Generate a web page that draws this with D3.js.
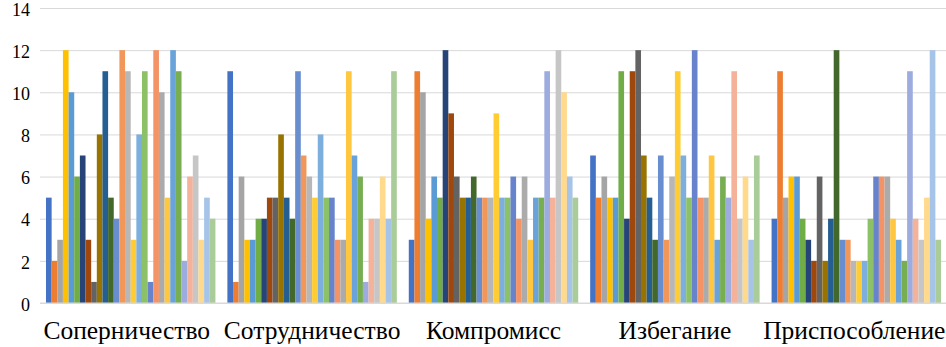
<!DOCTYPE html>
<html>
<head>
<meta charset="utf-8">
<script src="https://cdn.jsdelivr.net/npm/d3@7/dist/d3.min.js"></script>
<style>
  html, body { margin: 0; padding: 0; background: #ffffff; }
  svg { display: block; }
  svg text { font-family: "Liberation Serif", "Times New Roman", "DejaVu Serif", serif !important; fill: #000; }
</style>
</head>
<body>
<svg id="chart" width="946" height="347"></svg>
<script>
// ---- data ----
const categories = ["Соперничество", "Сотрудничество", "Компромисс", "Избегание", "Приспособление"];
const seriesNames = d3.range(1, 31).map(i => "Ряд " + i);
const yTicks = [0, 2, 4, 6, 8, 10, 12, 14];

const sopernichestvo  = [5, 2, 3, 12, 10, 6, 7, 3, 1, 8, 11, 5, 4, 12, 11, 3, 8, 11, 1, 12, 10, 5, 12, 11, 2, 6, 7, 3, 5, 4];
const sotrudnichestvo = [11, 1, 6, 3, 3, 4, 4, 5, 5, 8, 5, 4, 11, 7, 6, 5, 8, 5, 5, 3, 3, 11, 7, 6, 1, 4, 4, 6, 4, 11];
const kompromiss      = [3, 11, 10, 4, 6, 5, 12, 9, 6, 5, 5, 6, 5, 5, 5, 9, 5, 5, 6, 4, 6, 3, 5, 5, 11, 5, 12, 10, 6, 5];
const izbeganie       = [7, 5, 6, 5, 5, 11, 4, 11, 12, 7, 5, 3, 7, 3, 6, 11, 7, 5, 12, 5, 5, 7, 3, 6, 5, 11, 4, 6, 3, 7];
const prisposoblenie  = [4, 11, 5, 6, 6, 4, 3, 2, 6, 2, 4, 12, 3, 3, 2, 2, 2, 4, 6, 6, 6, 4, 3, 2, 11, 4, 3, 5, 12, 3];

const valuesByCategory = [sopernichestvo, sotrudnichestvo, kompromiss, izbeganie, prisposoblenie];

// ---- style ----
const palette = [
  "#4472C4", "#ED7D31", "#A5A5A5", "#FFC000", "#5B9BD5", "#70AD47",
  "#264478", "#9E480E", "#636363", "#997300", "#255E91", "#43682B",
  "#698ED0", "#F1975A", "#B7B7B7", "#FFCD33", "#7CAFDD", "#8CC168",
  "#6683CB", "#F39366", "#ABABAB", "#FFC740", "#6AA3DA", "#77AE52",
  "#9DACDF", "#F4B29A", "#C6C6C6", "#FFD98C", "#A6C4E8", "#A9CC98"
];
const FONT = '"Liberation Serif", "Times New Roman", "DejaVu Serif", serif';

const svg = d3.select("#chart");
const margin = { left: 40, top: 8 };
const plotRight = 947;
const plotBottom = 303;

const x0 = d3.scaleBand()
  .domain(categories)
  .range([margin.left, plotRight])
  .paddingInner(0.066)
  .paddingOuter(0.033);

const x1 = d3.scaleBand()
  .domain(seriesNames)
  .range([0, x0.bandwidth()])
  .padding(0);

const y = d3.scaleLinear().domain([0, 14]).range([plotBottom, margin.top]);

const color = d3.scaleOrdinal().domain(seriesNames).range(palette);

// gridlines
const grid = svg.append("g")
  .attr("transform", `translate(${margin.left},0)`)
  .call(d3.axisLeft(y).tickValues(yTicks).tickSize(-(plotRight - margin.left)).tickFormat(""));
grid.select(".domain").remove();
grid.selectAll(".tick line").attr("stroke", "#D9D9D9").attr("stroke-width", 1);

// bars
const groups = svg.append("g").selectAll("g")
  .data(categories.map((c, i) => ({ cat: c, vals: valuesByCategory[i] })))
  .join("g")
  .attr("transform", d => `translate(${x0(d.cat)},0)`);

groups.selectAll("rect")
  .data(d => d.vals.map((v, j) => ({ name: seriesNames[j], v })))
  .join("rect")
  .attr("x", d => x1(d.name))
  .attr("y", d => y(d.v))
  .attr("width", x1.bandwidth())
  .attr("height", d => y(0) - y(d.v))
  .attr("fill", d => color(d.name));

// baseline
svg.append("line")
  .attr("x1", margin.left).attr("x2", plotRight)
  .attr("y1", y(0)).attr("y2", y(0))
  .attr("stroke", "#D9D9D9").attr("stroke-width", 1);

// y axis labels
const yAxis = svg.append("g")
  .attr("transform", `translate(${margin.left},0)`)
  .call(d3.axisLeft(y).tickValues(yTicks).tickSize(0).tickPadding(10));
yAxis.attr("font-family", FONT).attr("font-size", 18);
yAxis.select(".domain").remove();
yAxis.selectAll("text")
  .attr("font-family", FONT)
  .attr("font-size", 18)
  .attr("dy", "0.4em")
  .attr("fill", "#000");

// x axis labels
const xAxis = svg.append("g")
  .attr("transform", `translate(0,${plotBottom})`)
  .call(d3.axisBottom(x0).tickSize(0).tickPadding(18));
xAxis.attr("font-family", FONT).attr("font-size", 25.5);
xAxis.select(".domain").remove();
xAxis.selectAll("text")
  .attr("font-family", FONT)
  .attr("font-size", 25.5)
  .attr("fill", "#000")
  .attr("x", (d, i) => i === 0 ? -4 : (i === 4 ? -2 : 0));
</script>
</body>
</html>
